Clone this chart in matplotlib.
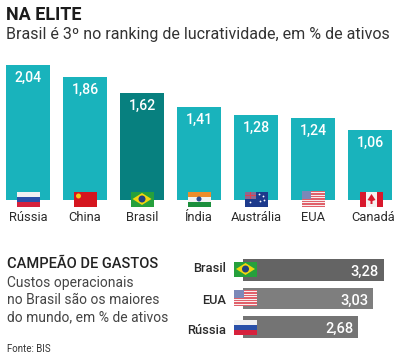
import matplotlib
matplotlib.use("Agg")
import matplotlib.pyplot as plt
from matplotlib.patches import Rectangle, Polygon, Ellipse

# Data
countries = ["Rússia", "China", "Brasil", "Índia", "Austrália", "EUA", "Canadá"]
profit = [2.04, 1.86, 1.62, 1.41, 1.28, 1.24, 1.06]
profit_labels = ["2,04", "1,86", "1,62", "1,41", "1,28", "1,24", "1,06"]
cost_countries = ["Brasil", "EUA", "Rússia"]
costs = [3.28, 3.03, 2.68]
cost_labels = ["3,28", "3,03", "2,68"]

W, H = 400, 355
TEAL = "#19b3bc"
DARK_TEAL = "#07807f"
TXT = "#2b2b2b"
plt.rcParams["font.family"] = ["Roboto", "DejaVu Sans"]

fig = plt.figure(figsize=(W / 100, H / 100), dpi=100, facecolor="white")


def axes_px(x0, y0, x1, y1):
    # axes from pixel box, y measured from the top
    ax = fig.add_axes([x0 / W, 1 - y1 / H, (x1 - x0) / W, (y1 - y0) / H])
    ax.axis("off")
    return ax


# Top chart
ax = axes_px(0, 40, W, 199.5)
colors = [DARK_TEAL if c == "Brasil" else TEAL for c in countries]
ax.bar(range(7), profit, width=44 / 57, color=colors)
ax.set_xlim(-28 / 57, (W - 28) / 57)
ax.set_ylim(0, 159.5 / 65.9)
for i, v in enumerate(profit):
    ax.annotate(profit_labels[i], (i, v), xytext=(0, -13), textcoords="offset pixels",
                ha="center", va="center", color="white", fontsize=10.2, fontweight="medium")

# Bottom chart
ax2 = axes_px(243, 255, W, 341)
ax2.barh(range(3), costs, height=0.77, color=["#646464", "#7e7e7e", "#747474"])
ax2.set_xlim(0, 157 / 43)
ax2.set_ylim(2.49, -0.526)
for i, v in enumerate(costs):
    ax2.annotate(cost_labels[i], (v, i), xytext=(-5, -2), textcoords="offset pixels",
                 ha="right", va="center", color="white", fontsize=10.5, fontweight="medium")

# Overlay in pixel coordinates for text and flags
ov = axes_px(0, 0, W, H)
ov.set_xlim(0, W)
ov.set_ylim(H, 0)
ov.set_zorder(5)


def rect(x, y, w, h, c):
    ov.add_patch(Rectangle((x, y), w, h, fc=c, ec="none"))


def flag_base(cx, cy, w=23, h=15):
    return cx - w / 2, cy - h / 2, w, h


def russia(cx, cy):
    x, y, w, h = flag_base(cx, cy)
    rect(x, y, w, h / 3, "#f1f1f1")
    rect(x, y + h / 3, w, h / 3, "#2a50a8")
    rect(x, y + 2 * h / 3, w, h / 3, "#d6213c")


def china(cx, cy):
    x, y, w, h = flag_base(cx, cy)
    rect(x, y, w, h, "#d5161f")
    ov.add_patch(Ellipse((x + 5, y + 4.5), 5, 5, fc="#f6c915", ec="none"))


def brazil(cx, cy):
    x, y, w, h = flag_base(cx, cy)
    rect(x, y, w, h, "#26a03c")
    ov.add_patch(Polygon([(x + 2, cy), (cx, y + 1.5), (x + w - 2, cy), (cx, y + h - 1.5)],
                         fc="#f2d60f", ec="none"))
    ov.add_patch(Ellipse((cx, cy), 7, 7, fc="#22407f", ec="none"))


def india(cx, cy):
    x, y, w, h = flag_base(cx, cy)
    rect(x, y, w, h / 3, "#ee8d2c")
    rect(x, y + h / 3, w, h / 3, "#f4f4f4")
    rect(x, y + 2 * h / 3, w, h / 3, "#1b8f3c")
    ov.add_patch(Ellipse((cx, cy), 5, 5, fc="#2a4a90", ec="none"))


def australia(cx, cy):
    x, y, w, h = flag_base(cx, cy)
    rect(x, y, w, h, "#1d3a8c")
    rect(x, y, w / 2, h / 2, "#8c6a90")
    rect(x, y + h / 4 - 0.7, w / 2, 1.4, "#e04050")
    rect(x + w / 4 - 0.7, y, 1.4, h / 2, "#e04050")
    for dx, dy in [(15, 3), (19, 5), (16, 10), (20, 9), (6, 11)]:
        ov.add_patch(Ellipse((x + dx, y + dy), 1.8, 1.8, fc="white", ec="none"))


def usa(cx, cy):
    x, y, w, h = flag_base(cx, cy, h=16)
    rect(x, y, w, h, "#f7eeee")
    for k in range(0, 7):
        rect(x, y + k * h / 6.5, w, h / 13, "#e0606a")
    rect(x, y, w * 0.42, h * 0.5, "#7c88b8")


def canada(cx, cy):
    x, y, w, h = flag_base(cx, cy)
    rect(x, y, w, h, "#f6f0f0")
    rect(x, y, 6, h, "#d8182c")
    rect(x + w - 6, y, 6, h, "#d8182c")
    ov.add_patch(Polygon([(cx, cy - 5), (cx + 4, cy + 1), (cx + 1, cy + 2), (cx + 1, cy + 5),
                          (cx - 1, cy + 5), (cx - 1, cy + 2), (cx - 4, cy + 1)],
                         fc="#d8182c", ec="none"))


flag_funcs = {"Rússia": russia, "China": china, "Brasil": brazil, "Índia": india,
              "Austrália": australia, "EUA": usa, "Canadá": canada}
flag_y = 199
for i, c in enumerate(countries):
    cx = 28 + 57 * i + (i == 6) * 1.5
    flag_funcs[c](cx, flag_y)
    ov.text(cx + (i == 6) * 1.5, 217.5, c, ha="center", va="center", fontsize=9.3, color=TXT)

for c, cy, ly in zip(cost_countries, [269, 298, 327], [269, 300, 331]):
    flag_funcs[c](245.5, cy)
    ov.text(226, ly, c, ha="right", va="center", fontsize=9.3, color=TXT, fontweight="medium")

# Titles
ov.text(6, 15, "NA ELITE", fontsize=13, fontweight="bold", color="#1c1c1c", va="center")
ov.text(6, 35, "Brasil é 3º no ranking de lucratividade, em % de ativos", fontsize=11.55,
        color="#333333", va="center")
ov.text(7, 264, "CAMPEÃO DE GASTOS", fontsize=10.5, fontweight="medium", color="#222222", va="center")
ov.text(7, 283, "Custos operacionais", fontsize=10, color="#444444", va="center")
ov.text(7, 300, "no Brasil são os maiores", fontsize=10, color="#444444", va="center")
ov.text(7, 317, "do mundo, em % de ativos", fontsize=10, color="#444444", va="center")
ov.text(7, 349, "Fonte: BIS", fontsize=7, color="#333333", va="center")

fig.savefig("out.png", dpi=100)
